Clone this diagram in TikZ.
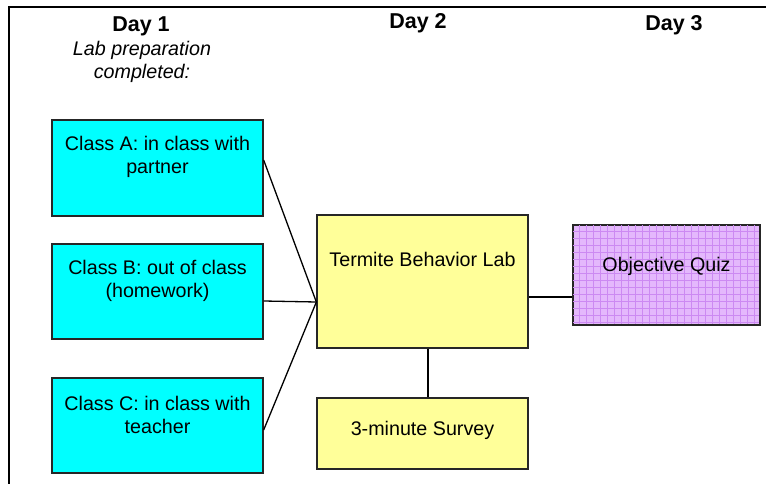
\documentclass[tikz,border=0pt]{standalone}
\usepackage{fontspec}
\setmainfont{Liberation Sans}
\usetikzlibrary{calc}
\begin{document}
\begin{tikzpicture}[x=1pt,y=-1pt,
  box/.style={draw=black!85, line width=1.3pt, rectangle, inner sep=0pt},
  txt/.style={align=center, font=\fontsize{19.7}{23}\selectfont, inner sep=0pt},
  dayhead/.style={font=\fontsize{21.5}{25}\selectfont\bfseries, inner sep=0pt},
  conn/.style={draw=black, line width=1.3pt}]
\useasboundingbox (0,0) rectangle (766,484);
\definecolor{cyanbox}{HTML}{00FFFF}
\definecolor{yellowbox}{HTML}{FFFF99}
\definecolor{quizfill}{HTML}{E4B8FC}
\definecolor{quizgrid}{HTML}{CC8AF2}
% frame
\draw[line width=2pt] (9,484) -- (9,7) -- (766,7);
% headers
\node[dayhead] (d1) at (141,26) {Day 1};
\node[txt, font=\fontsize{19.7}{23}\selectfont\itshape] (prep) at (142,62) {Lab preparation\\completed:};
\node[dayhead] (d2) at (418,23) {Day 2};
\node[dayhead] (d3) at (674,25) {Day 3};
% boxes
\node[box, fill=cyanbox, minimum width=211pt, minimum height=96pt] (A) at (157.5,168) {};
\node[box, fill=cyanbox, minimum width=211pt, minimum height=95pt] (B) at (157.5,291.5) {};
\node[box, fill=cyanbox, minimum width=211pt, minimum height=95pt] (C) at (157.5,425.5) {};
\node[box, fill=yellowbox, minimum width=211pt, minimum height=133pt] (T) at (422.5,281.5) {};
\node[box, fill=yellowbox, minimum width=211pt, minimum height=71pt] (S) at (422.5,433.5) {};
\node[box, fill=quizfill, minimum width=187pt, minimum height=100pt] (Q) at (666.5,275) {};
\begin{scope}
\clip (Q.north west) rectangle (Q.south east);
\foreach \i in {0,...,27} {
  \draw[quizgrid, line width=0.6pt] ($(Q.north west)+(\i*7,0)$) -- ++(0,100);
}
\foreach \j in {0,...,15} {
  \draw[quizgrid, line width=0.6pt] ($(Q.north west)+(0,\j*7)$) -- ++(187,0);
}
\end{scope}
\draw[draw=black!85, line width=1.3pt] (Q.north west) rectangle (Q.south east);
% texts
\node[txt] (At) at (157.5,157) {Class A: in class with\\partner};
\node[txt] (Bt) at (157.5,281) {Class B: out of class\\(homework)};
\node[txt] (Ct) at (157.5,415) {Class C: in class with\\teacher};
\node[txt] (Tt) at (422.5,259) {Termite Behavior Lab};
\node[txt] (St) at (422.5,430) {3-minute Survey};
\node[txt] (Qt) at (666.5,266) {Objective Quiz};
% connectors
\coordinate (Tin) at ([yshift=-20.5pt]T.west);
\draw[conn] ([yshift=8pt]A.east) -- (Tin);
\draw[conn] ([yshift=-9.5pt]B.east) -- (Tin);
\draw[conn] ([yshift=-4.5pt]C.east) -- (Tin);
\coordinate (Tout) at ([yshift=-15.5pt]T.east);
\draw[conn] (Tout) -- (Tout -| Q.west);
\coordinate (Tdown) at ([xshift=5.5pt]T.south);
\draw[conn] (Tdown) -- (Tdown |- S.north);
\end{tikzpicture}
\end{document}
